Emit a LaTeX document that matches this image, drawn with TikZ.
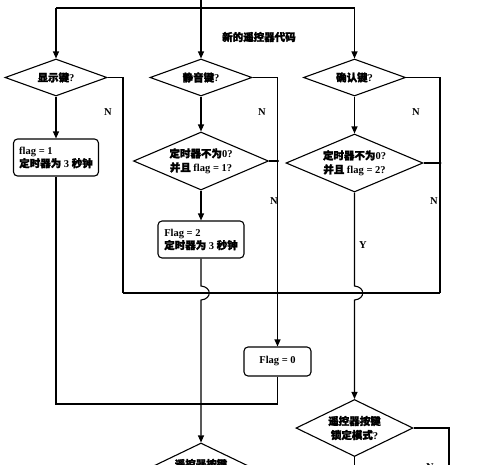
\documentclass[tikz,border=0pt]{standalone}
\usepackage{fontspec}
\setmainfont{Liberation Serif}
\newfontfamily\cjk[FakeBold=2]{Noto Sans CJK SC}
\usetikzlibrary{shapes.geometric,arrows.meta}
\newcommand\zh[1]{{\cjk #1}}
\begin{document}
\begin{tikzpicture}[x=1pt,y=-1pt, line width=1.1pt,
  dia/.style={draw, shape=diamond, inner sep=0pt},
  lbl/.style={font=\bfseries\fontsize{10.5}{14}\selectfont, align=center, inner sep=0pt},
  box/.style={draw, rounded corners=4pt, align=left, inner sep=0pt, font=\bfseries\fontsize{10.5}{13}\selectfont},
  arr/.style={-{Triangle[length=7pt,width=6pt]}},
  jdot/.style={circle, fill, inner sep=0pt, minimum size=3.2pt},
  nl/.style={font=\bfseries\fontsize{10.5}{11}\selectfont, inner sep=0pt}]
\useasboundingbox (0,0) rectangle (500,464);
% title
\node[font=\bfseries\fontsize{10.5}{12}\selectfont] (title) at (259,37) {\zh{新的遥控器代码}};
% decisions
\node[dia, minimum width=102, minimum height=37, label={[lbl]center:{\zh{显示键}?}}] (d1) at (56,77.5) {};
\node[dia, minimum width=102, minimum height=37, label={[lbl]center:{\zh{静音键}?}}] (d2) at (201,77.5) {};
\node[dia, minimum width=102, minimum height=37, label={[lbl]center:{\zh{确认键}?}}] (d4) at (354.5,77.5) {};
\node[dia, minimum width=135, minimum height=58, label={[lbl]center:{\zh{定时器不为}0?\\\zh{并且} flag = 1?}}] (d3) at (201,161) {};
\node[dia, minimum width=137, minimum height=58, label={[lbl]center:{\zh{定时器不为}0?\\\zh{并且} flag = 2?}}] (d5) at (354.5,163) {};
\node[dia, minimum width=117, minimum height=57, label={[lbl]center:{\zh{遥控器按键}\\\zh{锁定模式}?}}] (d6) at (354.5,428) {};
\node[dia, minimum width=116, minimum height=56, label={[lbl]center:{\zh{遥控器按键}\\\zh{锁定模式}?}}] (d7) at (201,471) {};
% boxes
\node[box, minimum width=85, minimum height=37] (b1) at (56,157.5) {flag = 1\\\zh{定时器为} 3 \zh{秒钟}};
\node[box, minimum width=86, minimum height=37] (b2) at (201,239.5) {Flag = 2\\\zh{定时器为} 3 \zh{秒钟}};
\node[box, minimum width=67, minimum height=29] (b3) at (277.5,361.5) {Flag = 0};
% coordinates
\coordinate (topin) at (201,0);
\coordinate (tj) at (201,8);
\coordinate (tl) at (56,8);
\coordinate (tr) at (354.5,8);
\coordinate (n1) at (123,293);
\coordinate (n4) at (440,293);
\coordinate (j5) at (440,163);
\coordinate (j3) at (277.5,161);
\coordinate (jm) at (277.5,293);
\coordinate (jl) at (277.5,404);
\coordinate (br1a) at (201,286);
\coordinate (br1b) at (201,300);
\coordinate (br2a) at (354.5,286);
\coordinate (br2b) at (354.5,300);
\coordinate (rb) at (449,470);
\coordinate (sb) at (354.5,470);
% top distribution
\draw (topin) -- (tj);
\draw (tl) -- (tr);
\draw[arr] (tl) -- (d1.north);
\draw[arr] (tj) -- (d2.north);
\draw[arr] (tr) -- (d4.north);
% N paths
\draw (d1.east) -| (n1);
\draw (n1) -- (n4);
\draw (d4.east) -| (n4);
\draw (d5.east) -- (j5);
\draw (d3.east) -- (j3);
\draw[arr] (d2.east) -| (b3.north);
% Y paths
\draw[arr] (d1.south) -- (b1.north);
\draw (b1.south) |- (jl);
\draw (b3.south) -- (jl);
\draw[arr] (d2.south) -- (d3.north);
\draw[arr] (d3.south) -- (b2.north);
\draw[arr] (b2.south) -- (br1a) .. controls (212,287) and (212,299) .. (br1b) -- (d7.north);
\draw[arr] (d4.south) -- (d5.north);
\draw[arr] (d5.south) -- (br2a) .. controls (365.5,287) and (365.5,299) .. (br2b) -- (d6.north);
\draw (d6.east) -| (rb);
\draw (d6.south) -- (sb);
% junction dots
\node[jdot] (dt) at (tj) {};
\node[jdot] (dj3) at (j3) {};
\node[jdot] (dj5) at (j5) {};
\node[jdot] (djm) at (jm) {};
% labels
\node[nl] (l1) at (108,112) {N};
\node[nl] (l2) at (262,112) {N};
\node[nl] (l4) at (416,112) {N};
\node[nl] (l3) at (274,201) {N};
\node[nl] (l5) at (434,201) {N};
\node[nl] (l6) at (430,467) {N};
\node[nl] (ly) at (363,245) {Y};
\end{tikzpicture}
\end{document}
